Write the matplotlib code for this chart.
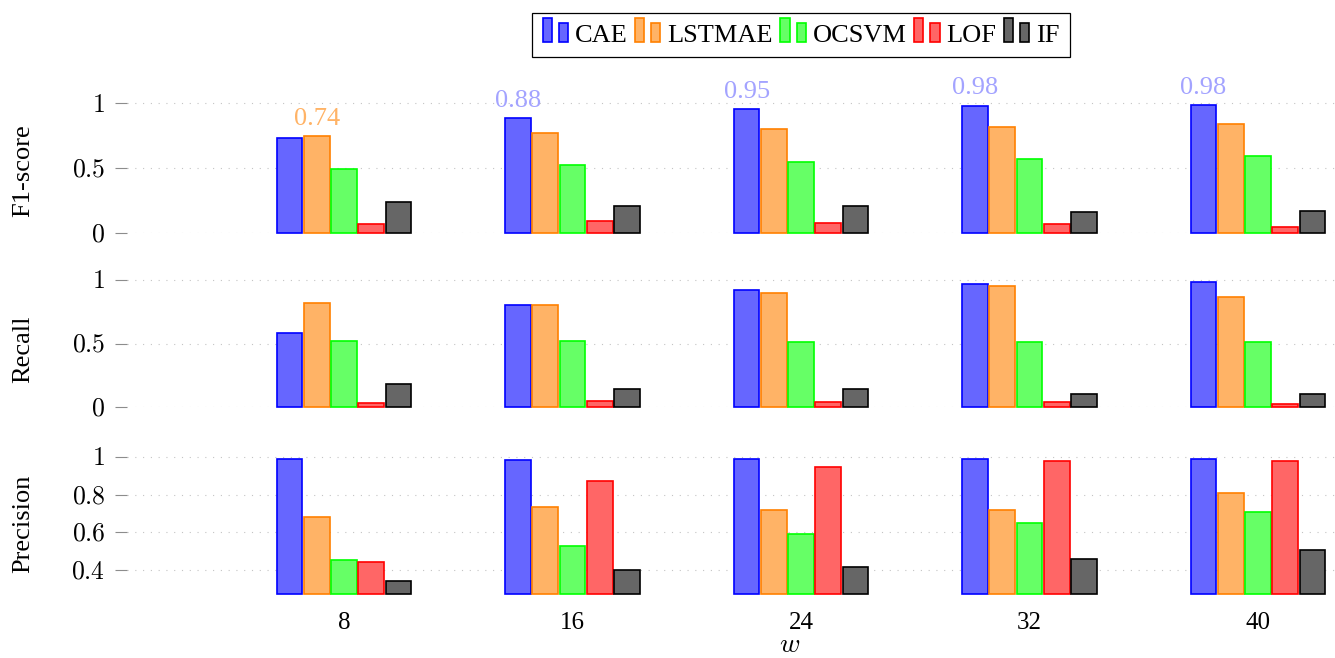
import matplotlib
matplotlib.use('Agg')
import matplotlib.pyplot as plt
import numpy as np
from matplotlib.patches import Rectangle
from matplotlib.legend_handler import HandlerBase
from matplotlib.ticker import FuncFormatter, FixedLocator

plt.rcParams['font.family'] = ['Liberation Serif', 'DejaVu Serif']
plt.rcParams['mathtext.fontset'] = 'cm'

# ---------------- data ----------------
windows = [8, 16, 24, 32, 40]
methods = ['CAE', 'LSTMAE', 'OCSVM', 'LOF', 'IF']

f1_cae    = [0.733, 0.885, 0.953, 0.980, 0.985]
f1_lstm   = [0.745, 0.767, 0.800, 0.818, 0.836]
f1_ocsvm  = [0.490, 0.523, 0.548, 0.570, 0.590]
f1_lof    = [0.067, 0.092, 0.080, 0.070, 0.050]
f1_if     = [0.240, 0.210, 0.205, 0.164, 0.170]

rec_cae   = [0.585, 0.805, 0.924, 0.971, 0.987]
rec_lstm  = [0.820, 0.800, 0.898, 0.955, 0.870]
rec_ocsvm = [0.517, 0.517, 0.514, 0.510, 0.510]
rec_lof   = [0.034, 0.050, 0.042, 0.037, 0.026]
rec_if    = [0.180, 0.144, 0.139, 0.100, 0.105]

pre_cae   = [0.986, 0.984, 0.986, 0.990, 0.990]
pre_lstm  = [0.682, 0.735, 0.716, 0.716, 0.806]
pre_ocsvm = [0.455, 0.526, 0.589, 0.647, 0.706]
pre_lof   = [0.443, 0.873, 0.947, 0.976, 0.979]
pre_if    = [0.342, 0.402, 0.414, 0.457, 0.504]

# value labels on F1 row: (method index, label text) per window
f1_label_method = [1, 0, 0, 0, 0]
f1_label_text = ['0.74', '0.88', '0.95', '0.98', '0.98']

face_colors = ['#6666ff', '#ffb366', '#66ff66', '#ff6666', '#666666']
edge_colors = ['#0000ff', '#ff8000', '#00ff00', '#ff0000', '#000000']
label_colors = ['#a3a3ff', '#ffb366']

# ---------------- layout ----------------
W, H = 1335, 658
fig = plt.figure(figsize=(W / 100, H / 100), dpi=100)

left_px = 127
xlo = 8 - (344 - left_px) / 28.56
xhi = 40 + (W - 1258) / 28.56

rows = [
    dict(name='F1-score', vals=[f1_cae, f1_lstm, f1_ocsvm, f1_lof, f1_if],
         lo=0.0, hi=1.07, px0=233, ppu=130, ticks=[0, 0.5, 1], ylab_y=171),
    dict(name='Recall', vals=[rec_cae, rec_lstm, rec_ocsvm, rec_lof, rec_if],
         lo=0.0, hi=1.07, px0=407, ppu=127, ticks=[0, 0.5, 1], ylab_y=349),
    dict(name='Precision', vals=[pre_cae, pre_lstm, pre_ocsvm, pre_lof, pre_if],
         lo=0.272, hi=1.03, px0=594.3, ppu=188.9, ticks=[0.4, 0.6, 0.8, 1], ylab_y=524),
]

step = 0.953
bw = 0.9
x = np.array(windows, dtype=float)

axes = []
for ri, r in enumerate(rows):
    top_px = r['px0'] - (r['hi'] - r['lo']) * r['ppu']
    ax = fig.add_axes([left_px / W, 1 - r['px0'] / H, 1 - left_px / W,
                       (r['px0'] - top_px) / H])
    axes.append(ax)
    for mi in range(5):
        v = np.array(r['vals'][mi])
        ax.bar(x + (mi - 2) * step, v - r['lo'], bottom=r['lo'], width=bw,
               color=face_colors[mi], edgecolor=edge_colors[mi], linewidth=1.2,
               clip_on=False, zorder=3)
    ax.set_xlim(xlo, xhi)
    ax.set_ylim(r['lo'], r['hi'])
    for s in ax.spines.values():
        s.set_visible(False)
    ax.yaxis.set_major_locator(FixedLocator(r['ticks']))
    ax.yaxis.set_major_formatter(FuncFormatter(lambda v, p: r'$%g$' % v))
    ax.tick_params(axis='y', direction='out', length=8.6, width=0.8,
                   color='#8c8c8c', pad=7, labelsize=18.5)
    ax.grid(axis='y', color='#c4c4c4', linewidth=0.8, linestyle=(0, (1, 6)), zorder=0)
    ax.set_xticks(windows)
    if ri == 2:
        ax.set_xticklabels([str(w) for w in windows])
        ax.tick_params(axis='x', length=0, pad=13, labelsize=18)
    else:
        ax.tick_params(axis='x', length=0, labelbottom=False)
    fig.text(23 / W, 1 - r['ylab_y'] / H, r['name'], rotation=90,
             ha='center', va='center', fontsize=19)

# value labels
ax0 = axes[0]
for gi, w in enumerate(windows):
    mi = f1_label_method[gi]
    val = rows[0]['vals'][mi][gi]
    ax0.annotate(f1_label_text[gi], xy=(w + (mi - 2) * step, val),
                 xytext=(0, 8), textcoords='offset points', ha='center',
                 va='baseline', fontsize=19, color=label_colors[0 if mi == 0 else 1],
                 annotation_clip=False)

fig.text(790 / W, 1 - 646 / H, r'$w$', ha='center', va='center', fontsize=20)


class TwoBars(HandlerBase):
    def create_artists(self, legend, orig, xdescent, ydescent, width, height,
                       fontsize, trans):
        x0, y0 = -xdescent, -ydescent
        b = width * 0.36
        r1 = Rectangle((x0, y0), b, height * 1.3, facecolor=orig.get_facecolor(),
                       edgecolor=orig.get_edgecolor(), linewidth=1.2, transform=trans)
        r2 = Rectangle((x0 + width - b, y0), b, height * 1.0,
                       facecolor=orig.get_facecolor(), edgecolor=orig.get_edgecolor(),
                       linewidth=1.2, transform=trans)
        return [r1, r2]


proxies = [Rectangle((0, 0), 1, 1, facecolor=fc, edgecolor=ec)
           for fc, ec in zip(face_colors, edge_colors)]
leg = fig.legend(proxies, methods, loc='upper center',
                 bbox_to_anchor=(801 / W, 1 - 12.7 / H), ncol=5, frameon=True,
                 fancybox=False, edgecolor='black', framealpha=1,
                 handlelength=0.96, handletextpad=0.25, columnspacing=0.3,
                 borderpad=0.4, borderaxespad=0, fontsize=19,
                 handler_map={Rectangle: TwoBars()})
leg.get_frame().set_linewidth(0.9)

fig.savefig('out.png', dpi=100)
